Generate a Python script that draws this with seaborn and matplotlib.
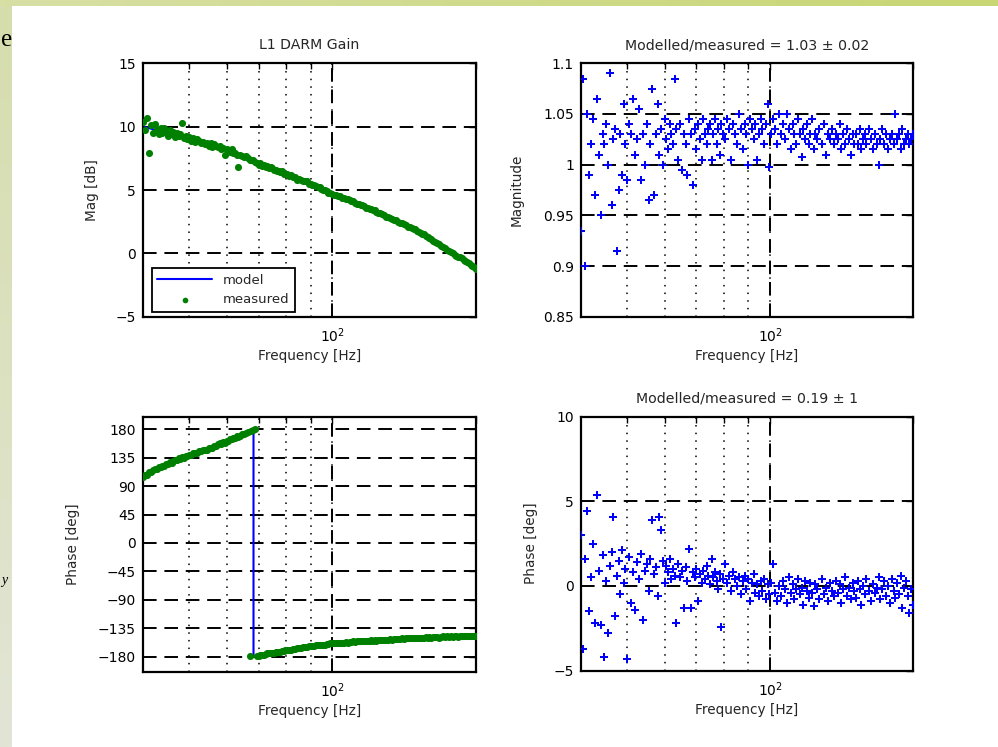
import numpy as np
import pandas as pd
import matplotlib
matplotlib.use('Agg')
import matplotlib.pyplot as plt
import seaborn as sns
from matplotlib.ticker import FixedLocator, NullFormatter, FixedFormatter

# ---------------- data ----------------
freq = [
    40.0, 40.4, 40.8, 41.2, 41.6, 42.0, 42.4, 42.8, 43.2, 43.6,
    44.0, 44.4, 44.8, 45.2, 45.6, 46.0, 46.4, 46.8, 47.2, 47.6,
    48.0, 48.4, 48.8, 49.2, 49.6, 50.0, 50.5, 51.0, 51.5, 52.0,
    52.5, 53.0, 53.5, 54.0, 54.5, 55.0, 55.5, 56.0, 56.5, 57.0,
    57.5, 58.0, 58.5, 59.0, 59.5, 60.0, 60.5, 61.0, 61.5, 62.0,
    62.5, 63.0, 63.5, 64.0, 64.6, 65.2, 65.8, 66.4, 67.0, 67.6,
    68.2, 68.8, 69.4, 70.0, 70.6, 71.2, 71.8, 72.4, 73.0, 73.6,
    74.2, 74.8, 75.4, 76.0, 76.6, 77.2, 77.8, 78.4, 79.0, 79.6,
    80.4, 81.2, 82.0, 82.8, 83.6, 84.4, 85.2, 86.0, 86.8, 87.6,
    88.4, 89.2, 90.0, 90.8, 91.6, 92.4, 93.2, 94.0, 94.8, 95.6,
    96.4, 97.2, 98.0, 98.8, 99.6, 100.6, 101.6, 102.6, 103.6, 104.6,
    105.6, 106.6, 107.6, 108.6, 109.6, 110.6, 111.6, 112.6, 113.6, 114.6,
    115.6, 116.6, 117.6, 118.6, 119.6, 120.6, 121.6, 122.6, 123.6, 124.6,
    125.8, 127.1, 128.4, 129.7, 131.0, 132.3, 133.6, 134.9, 136.2, 137.5,
    138.8, 140.1, 141.4, 142.7, 144.0, 145.3, 146.6, 147.9, 149.2, 150.5,
    151.8, 153.1, 154.4, 155.7, 157.0, 158.3, 159.6, 161.2, 162.8, 164.4,
    166.0, 167.6, 169.2, 170.8, 172.4, 174.0, 175.6, 177.2, 178.8, 180.4,
    182.0, 183.6, 185.2, 186.8, 188.4, 190.0, 191.6, 193.2, 194.8, 196.4,
    198.0, 199.6,
]

measured_mag_db = [
    10.4, 9.7, 10.7, 7.9, 10.1, 9.5, 10.2, 9.8, 9.4, 9.9,
    9.5, 9.9, 9.6, 9.3, 9.7, 9.4, 9.6, 9.2, 9.5, 9.3,
    9.4, 10.3, 9.1, 9.3, 9.0, 9.2, 8.9, 9.1, 8.8, 9.0,
    8.9, 8.7, 8.8, 8.6, 8.7, 8.5, 8.7, 8.4, 8.6, 8.5,
    8.4, 8.5, 8.2, 8.3, 7.8, 8.2, 8.1, 8.0, 8.2, 7.9,
    7.9, 7.8, 6.8, 7.8, 7.7, 7.6, 7.7, 7.5, 7.4, 7.4,
    7.4, 7.2, 7.1, 7.0, 7.1, 6.9, 7.0, 6.8, 6.9, 6.7,
    6.8, 6.7, 6.6, 6.6, 6.5, 6.5, 6.4, 6.5, 6.3, 6.3,
    6.3, 6.1, 6.2, 6.0, 6.0, 5.8, 5.9, 5.8, 5.7, 5.7,
    5.7, 5.5, 5.5, 5.4, 5.4, 5.3, 5.2, 5.2, 5.1, 5.0,
    5.0, 4.9, 4.8, 4.8, 4.7, 4.6, 4.6, 4.5, 4.5, 4.4,
    4.4, 4.3, 4.3, 4.2, 4.1, 4.1, 4.0, 3.9, 3.9, 3.8,
    3.8, 3.7, 3.6, 3.6, 3.5, 3.5, 3.4, 3.4, 3.3, 3.2,
    3.2, 3.1, 3.0, 2.9, 2.9, 2.8, 2.7, 2.6, 2.6, 2.5,
    2.4, 2.4, 2.3, 2.2, 2.1, 2.1, 2.0, 1.9, 1.9, 1.8,
    1.7, 1.6, 1.5, 1.5, 1.4, 1.3, 1.2, 1.1, 1.0, 0.9,
    0.8, 0.7, 0.6, 0.5, 0.4, 0.3, 0.2, 0.1, 0.0, -0.1,
    -0.2, -0.3, -0.3, -0.4, -0.5, -0.6, -0.7, -0.8, -0.9, -1.0,
    -1.1, -1.2,
]

measured_phase_deg = [
    104, 108, 108, 112, 112, 115, 117, 117, 120, 121,
    122, 122, 125, 125, 128, 127, 130, 131, 131, 134,
    133, 136, 135, 138, 137, 140, 139, 142, 143, 143,
    145, 145, 147, 148, 148, 150, 151, 151, 153, 153,
    156, 158, 157, 160, 159, 162, 161, 164, 164, 166,
    167, 169, 168, 170, 172, 172, 174, 175, -179, 178,
    179, 180, -179, -179, -178, -177, -177, -176, -175, -175,
    -175, -174, -175, -173, -173, -172, -173, -171, -171, -170,
    -170, -170, -169, -168, -168, -167, -167, -166, -165, -165,
    -165, -164, -164, -163, -163, -162, -162, -161, -162, -161,
    -161, -160, -160, -159, -159, -159, -158, -158, -159, -158,
    -158, -157, -158, -157, -157, -156, -157, -156, -156, -156,
    -156, -155, -156, -155, -155, -154, -155, -154, -155, -154,
    -154, -153, -154, -153, -153, -152, -153, -152, -152, -152,
    -152, -151, -152, -151, -151, -150, -151, -151, -150, -151,
    -150, -151, -150, -150, -149, -150, -149, -150, -149, -149,
    -149, -150, -149, -148, -149, -148, -149, -148, -149, -148,
    -148, -149, -148, -147, -148, -148, -147, -148, -147, -148,
    -147, -148,
]

ratio_mag = [
    0.935, 1.085, 0.90, 1.05, 0.99, 1.02, 1.045, 0.97, 1.065, 1.01,
    0.95, 1.03, 1.02, 1.04, 1.0, 1.09, 0.96, 1.025, 1.035, 0.915,
    0.975, 1.03, 0.99, 1.06, 1.02, 0.985, 1.04, 1.03, 1.065, 1.01,
    1.025, 1.055, 0.985, 1.03, 1.0, 1.04, 0.965, 1.02, 1.075, 0.97,
    1.03, 1.06, 1.01, 1.035, 1.0, 1.045, 1.025, 1.015, 1.04, 1.03,
    1.02, 1.085, 1.035, 1.005, 1.04, 0.995, 1.03, 1.02, 0.99, 1.045,
    1.03, 0.98, 1.035, 1.015, 1.04, 1.025, 1.005, 1.045, 1.03, 1.02,
    1.035, 1.04, 1.005, 1.03, 1.045, 1.02, 1.035, 1.01, 1.04, 1.03,
    1.025, 1.045, 1.035, 1.005, 1.04, 1.03, 1.02, 1.05, 1.035, 1.015,
    1.04, 1.03, 1.0, 1.045, 1.035, 1.025, 1.04, 1.005, 1.03, 1.045,
    1.035, 1.02, 1.04, 1.06, 0.998, 1.03, 1.045, 1.035, 1.02, 1.05,
    1.03, 1.04, 1.025, 1.05, 1.035, 1.015, 1.04, 1.03, 1.02, 1.045,
    1.03, 1.008, 1.035, 1.025, 1.04, 1.02, 1.03, 1.045, 1.015, 1.03,
    1.025, 1.035, 1.02, 1.04, 1.01, 1.03, 1.025, 1.035, 1.02, 1.03,
    1.025, 1.04, 1.015, 1.03, 1.02, 1.035, 1.025, 1.01, 1.03, 1.02,
    1.03, 1.02, 1.035, 1.015, 1.025, 1.03, 1.02, 1.035, 1.025, 1.015,
    1.03, 1.02, 1.0, 1.025, 1.035, 1.02, 1.03, 1.015, 1.025, 1.03,
    1.02, 1.05, 1.025, 1.03, 1.015, 1.035, 1.02, 1.025, 1.03, 1.02,
    1.025, 1.03,
]

ratio_phase_deg = [
    3.0, -3.7, 1.6, 4.4, -1.5, 0.5, 2.5, -2.2, 5.4, 0.9,
    -2.3, 1.8, -4.2, 0.3, -2.8, 1.2, 2.0, 4.1, -1.8, 0.6,
    1.5, -0.5, 2.1, 0.2, 1.0, -4.3, 1.7, -1.0, 0.8, -1.4,
    1.4, 0.4, 1.9, -2.0, 0.9, 1.3, -0.3, 1.6, 3.9, 0.7,
    1.1, -0.6, 4.1, 3.3, 1.5, 0.2, 1.2, 0.8, 1.6, 0.4,
    1.0, 0.6, -2.2, 1.3, 0.5, 0.9, -1.3, 1.1, 0.3, 2.2,
    -1.3, 0.8, 0.5, 1.0, -0.9, 0.7, 0.2, 0.9, 0.4, 1.2,
    0.6, 0.1, 1.6, 0.5, 0.8, 0.3, -0.2, 0.7, -2.4, 0.4,
    1.3, 0.2, 0.6, -0.3, 0.8, 0.4, 0.0, 0.5, -0.5, 0.3,
    0.6, -0.2, 0.4, -0.9, 0.2, 0.7, -0.4, 0.1, -0.6, 0.3,
    -0.3, 0.4, -0.8, 0.1, -0.5, 0.2, 1.3, -0.4, -0.9, 0.0,
    -0.6, 0.3, -0.2, -1.0, 0.5, -0.4, 0.1, -0.8, -0.2, 0.4,
    -0.5, -0.1, -1.1, 0.3, -0.3, -0.7, 0.2, -0.4, -1.2, 0.1,
    -0.2, -0.8, 0.4, -0.5, -0.1, -0.9, 0.2, -0.3, -0.6, 0.3,
    -0.4, 0.1, -1.0, -0.2, 0.5, -0.6, -0.1, -0.8, 0.2, -0.3,
    -0.7, 0.3, -0.2, -1.1, 0.0, -0.5, 0.4, -0.3, -0.9, 0.1,
    -0.4, -0.1, 0.5, -0.8, -0.2, 0.3, -0.6, 0.0, -1.0, 0.4,
    -0.3, -0.7, 0.2, -0.5, 0.6, -1.3, -0.1, 0.3, -0.6, -1.6,
    -0.2, -1.1,
]

model_freq = [40, 50, 60, 70, 80, 90, 100, 115, 134, 150, 170, 185, 200]
model_mag_db = [10.0, 9.1, 8.2, 7.1, 6.3, 5.5, 4.7, 3.8, 2.8, 1.8, 0.6, -0.3, -1.2]

model_phase_freq = [40, 45, 50, 55, 60, 65, 68.3, 68.3, 70, 80, 90, 100, 120, 140, 160, 180, 200]
model_phase_deg = [105, 125, 139, 150, 161, 172, 179.5, -179.5, -178.5, -171, -164, -159,
                   -155, -152, -150, -149, -148]

mag_ticks = [-5, 0, 5, 10, 15]
ratio_mag_ticks = [0.85, 0.9, 0.95, 1.0, 1.05, 1.1]
ratio_mag_ticklabels = ['0.85', '0.9', '0.95', '1', '1.05', '1.1']
phase_ticks = [-180, -135, -90, -45, 0, 45, 90, 135, 180]
ratio_phase_ticks = [-5, 0, 5, 10]

title_gain = 'L1 DARM Gain'
title_ratio_mag = 'Modelled/measured = 1.03 ± 0.02'
title_ratio_phase = 'Modelled/measured = 0.19 ± 1'

# ---------------- styling ----------------
sns.set_style('white')
plt.rcParams['font.family'] = ['DejaVu Sans']
plt.rcParams['font.size'] = 10

GREEN = '#008000'
BLUE = '#0000ff'
FS_TICK = 10
FS_LABEL = 9.8
FS_TITLE = 10.2

df = pd.DataFrame({
    'freq': freq,
    'mag_db': measured_mag_db,
    'phase': measured_phase_deg,
    'ratio_mag': ratio_mag,
    'ratio_phase': ratio_phase_deg,
})
df_model = pd.DataFrame({'freq': model_freq, 'mag_db': model_mag_db})
df_model_ph = pd.DataFrame({'freq': model_phase_freq, 'phase': model_phase_deg})

fig = plt.figure(figsize=(9.98, 7.47), dpi=100)
fig.patch.set_facecolor('white')

# slide decorations (top band & left strip)
W, H = 998, 747
ax_top = fig.add_axes([0, 1 - 6 / H, 1, 6 / H])
grad_top = np.linspace(0, 1, 256)
c0 = np.array([216, 223, 165]) / 255
c1 = np.array([200, 214, 115]) / 255
img = c0[None, :] * (1 - grad_top[:, None]) + c1[None, :] * grad_top[:, None]
ax_top.imshow(img[None, :, :], aspect='auto', extent=(0, 1, 0, 1))
ax_top.axis('off')

ax_left = fig.add_axes([0, 0, 12 / W, 1 - 6 / H])
g = np.linspace(0, 1, 256)
l0 = np.array([214, 221, 172]) / 255
l1 = np.array([226, 229, 214]) / 255
img2 = l0[None, :] * (1 - g[:, None]) + l1[None, :] * g[:, None]
ax_left.imshow(img2[:, None, :], aspect='auto', extent=(0, 1, 0, 1))
ax_left.axis('off')

fig.text(1 / W, 1 - 46 / H, 'e', fontsize=18, family='Liberation Serif', color='black')
fig.text(1 / W, 1 - 584 / H, 'y', fontsize=10, family='Liberation Serif',
         style='italic', color='black')


def rect(left, top, right, bottom):
    return [left / W, 1 - bottom / H, (right - left) / W, (bottom - top) / H]


ax_tl = fig.add_axes(rect(142.7, 63.3, 476, 316.7))
ax_tr = fig.add_axes(rect(581, 63.3, 913, 316.7))
ax_bl = fig.add_axes(rect(142.7, 416.7, 476, 671.7))
ax_br = fig.add_axes(rect(581, 416.7, 913, 670.5))


def style_axes(ax, ylim, yticks, yticklabels=None):
    ax.set_xscale('log')
    ax.set_xlim(40, 200)
    ax.set_ylim(*ylim)
    ax.xaxis.set_major_locator(FixedLocator([100]))
    ax.xaxis.set_major_formatter(FixedFormatter([r'$10^2$']))
    ax.xaxis.set_minor_locator(FixedLocator([50, 60, 70, 80, 90, 200]))
    ax.xaxis.set_minor_formatter(NullFormatter())
    ax.set_yticks(yticks)
    if yticklabels is not None:
        ax.set_yticklabels(yticklabels)
    for y in yticks:
        ax.axhline(y, color='k', lw=1.4, ls=(0, (7, 4)), zorder=1)
    for f in [50, 60, 70, 80, 90]:
        ax.axvline(f, color='k', lw=1.1, ls=(0, (1, 4)), zorder=1)
    ax.axvline(100, color='k', lw=1.4, ls=(0, (7, 4)), zorder=1)
    ax.axvline(100, color='k', lw=1.1, ls=(0, (1, 4)), zorder=1)
    ax.tick_params(which='both', direction='in', top=True, right=True,
                   width=1.0, colors='k', labelsize=FS_TICK)
    ax.tick_params(which='major', length=5, pad=5)
    ax.tick_params(axis='x', which='major', pad=7)
    ax.tick_params(which='minor', length=4)
    for s in ax.spines.values():
        s.set_visible(True)
        s.set_linewidth(1.6)
        s.set_color('k')
    ax.set_xlabel('Frequency [Hz]', fontsize=FS_LABEL, labelpad=3)


# --- top left: magnitude ---
sns.lineplot(data=df_model, x='freq', y='mag_db', ax=ax_tl, color=BLUE, lw=1.5,
             label='model', sort=False, estimator=None, zorder=2)
sns.scatterplot(data=df, x='freq', y='mag_db', ax=ax_tl, color=GREEN, s=26,
                linewidth=0, marker='o', label='measured', zorder=3)
style_axes(ax_tl, (-5, 15), mag_ticks)
ax_tl.set_ylabel('Mag [dB]', fontsize=FS_LABEL, labelpad=12)
ax_tl.set_title(title_gain, fontsize=FS_TITLE, pad=10)
leg = ax_tl.legend(loc='lower left', bbox_to_anchor=(0.027, 0.02), borderaxespad=0,
                   frameon=True, fancybox=False, edgecolor='black', facecolor='white',
                   handlelength=4.2, fontsize=9.5, framealpha=1, markerscale=0.8)
leg.get_frame().set_linewidth(1.3)
leg.set_zorder(5)

# --- top right: magnitude ratio ---
sns.scatterplot(data=df, x='freq', y='ratio_mag', ax=ax_tr, color=BLUE, s=28,
                linewidth=0, marker='P', zorder=3, legend=False)
style_axes(ax_tr, (0.85, 1.1), ratio_mag_ticks, ratio_mag_ticklabels)
ax_tr.set_ylabel('Magnitude', fontsize=FS_LABEL, labelpad=14)
ax_tr.set_title(title_ratio_mag, fontsize=FS_TITLE, pad=10)

# --- bottom left: phase ---
sns.lineplot(data=df_model_ph, x='freq', y='phase', ax=ax_bl, color=BLUE, lw=1.5,
             sort=False, estimator=None, zorder=2, legend=False)
sns.scatterplot(data=df, x='freq', y='phase', ax=ax_bl, color=GREEN, s=26,
                linewidth=0, marker='o', zorder=3, legend=False)
style_axes(ax_bl, (-204, 200), phase_ticks)
ax_bl.set_ylabel('Phase [deg]', fontsize=FS_LABEL, labelpad=13)

# --- bottom right: phase ratio ---
sns.scatterplot(data=df, x='freq', y='ratio_phase', ax=ax_br, color=BLUE, s=28,
                linewidth=0, marker='P', zorder=3, legend=False)
style_axes(ax_br, (-5, 10), ratio_phase_ticks)
ax_br.set_ylabel('Phase [deg]', fontsize=FS_LABEL, labelpad=11)
ax_br.set_title(title_ratio_phase, fontsize=FS_TITLE, pad=10)

fig.savefig('out.png', dpi=100, facecolor=fig.get_facecolor())
